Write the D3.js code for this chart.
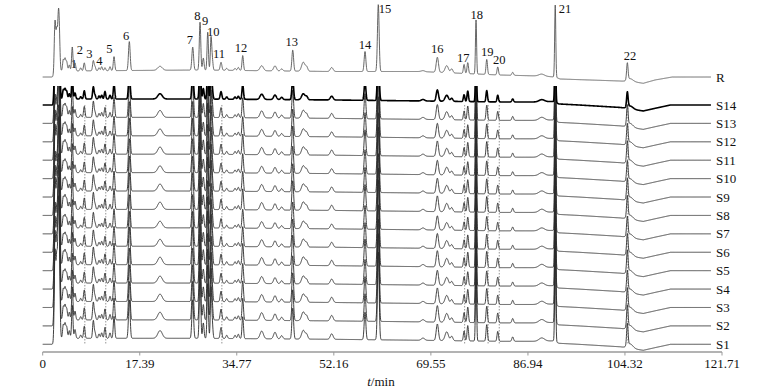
<!DOCTYPE html>
<html><head><meta charset="utf-8">
<script src="https://cdn.jsdelivr.net/npm/d3@7/dist/d3.min.js"></script>
<style>
body{margin:0;background:#fff;}
text{font-family:"Liberation Serif","Times New Roman",serif;}
</style>
</head><body>
<svg id="chart" width="765" height="392"></svg>
<script>
// ---------- DATA ----------
const tickValues = [0, 17.39, 34.77, 52.16, 69.55, 86.94, 104.32, 121.71];
const traceNames = ["R","S14","S13","S12","S11","S10","S9","S8","S7","S6","S5","S4","S3","S2","S1"];

// retention times (min) of the peaks seen in the chromatograms
const peakTimes   = [2.20,2.51,2.80,2.97,3.69,4.00,4.30,4.77,5.30,5.79,6.81,7.45,9.07,9.37,10.09,10.57,11.16,12.06,12.78,15.52,21.02,26.88,28.19,28.78,29.57,30.16,30.39,31.95,32.97,34.46,35.05,35.84,39.24,41.62,42.82,44.80,46.69,47.30,51.78,57.75,60.13,68.14,70.71,72.39,73.29,75.50,76.16,77.64,79.56,81.53,84.21,89.41,91.83,104.75,105.25];
// peak heights in the reference (R) trace
const refHeights  = [52,40,45,32,11,12,9,6,24,8,3,8,10,4,3,4,3,4,14,29,4,23,48,12,38,32,10,8,2,2,3,15,5,5,2,21,9,4,4,20,67,1,15,7,4,9,11,54,15,8,3,2,72,17,3];
// typical peak heights in the sample (S) traces
const sampleHeights=[80,70,85,75,12,13,10,7,30,8,3,11,16,5,4,5,10,5,20,35,7,35,60,14,50,45,12,10,3,3,4,20,7,6,3,28,8,4,5,25,80,2,15,8,4,9,14,70,15,9,4,3,85,20,4];
// peak widths (sigma, min)
const peakWidths  = [.13,.13,.13,.13,.13,.13,.13,.13,.12,.13,.13,.13,.13,.13,.13,.13,.13,.13,.13,.15,.4,.15,.13,.13,.12,.12,.12,.15,.15,.15,.15,.13,.3,.25,.2,.15,.3,.2,.25,.15,.15,.3,.2,.3,.2,.13,.13,.1,.13,.13,.15,.5,.1,.13,.5];
// relative response of each sample, S14 .. S1
const sampleScale = [0.75,1.0,0.98,1.03,0.97,1.0,1.05,0.95,1.0,1.08,1.0,1.05,1.1,1.1];

// baseline drift (time, signal)
const refBaseT  = [0,1.7,3.1,28.2,51.5,67.6,81.9,89.1,91.8,92.7,103.4,106.1,107.6,109.7,112.8,119.75];
const refBaseV  = [0,0,6,7,5.5,5.5,2,1,0,-2,-4,-5,-6.3,-3,0,0];
const sampBaseT = [0,1.7,3.1,28,52,68,82,89,91.5,92.5,96,103.5,107.6,110,112.5,119.75];
const sampBaseV = [0,0,6,6,5,4,3,3,3.5,1,0,-2.5,-6,-3,0,0];

// peak number labels on R (time, signal level)
const labelText   = ["1","2","3","4","5","6","7","8","9","10","11","12","13","14","15","16","17","18","19","20","21","22"];
const labelTimes  = [5.60,6.65,8.35,10.14,11.93,14.93,26.39,27.70,29.10,30.55,31.59,35.53,44.62,57.75,61.33,70.70,75.36,77.76,79.66,81.81,93.59,105.23];
const labelLevels = [13,27,23,16,28,41,37,61.5,56,45,23,29.5,35.5,32,68,28,19.5,62.5,25.5,17,68,21];

// aligned-peak marker times (dotted lines)
const markerTimes = [7.55,11.3,32.1,75.6,79.8,81.8,104.85];

// ---------- LAYOUT ----------
const svg = d3.select("#chart");
const x = d3.scaleLinear().domain([0,121.71]).range([42.7,722]);
const y = d3.scaleLinear().domain([0,344.3]).range([344.3,0]);
const spacing = 18.41;
const levelOf = name => name==="R" ? 267.3 : (parseInt(name.slice(1))-1)*spacing;

const tEnd = 119.75, step = 0.03;
const times = d3.range(0, tEnd+1e-9, step);
const refBase = d3.scaleLinear().domain(refBaseT).range(refBaseV).clamp(true);
const sampBase = d3.scaleLinear().domain(sampBaseT).range(sampBaseV).clamp(true);

function signal(t, heights, scale, base){
  let s = base(t);
  for(let i=0;i<peakTimes.length;i++){
    const d=(t-peakTimes[i])/peakWidths[i];
    if(Math.abs(d)<6) s += heights[i]*scale*Math.exp(-0.5*d*d);
  }
  return s;
}

const line = d3.line().x(d=>x(d[0])).y(d=>y(d[1]));

// clip for sample traces
svg.append("defs").append("clipPath").attr("id","sclip")
  .append("rect").attr("x",0).attr("y",86).attr("width",765).attr("height",306);

// dotted markers
svg.append("g").selectAll("line").data(markerTimes).join("line")
  .attr("x1",d=>x(d)).attr("x2",d=>x(d))
  .attr("y1",y(levelOf("S14"))).attr("y2",y(0))
  .attr("stroke","#666").attr("stroke-width",0.7).attr("stroke-dasharray","1.5,1.5");

// sample traces
const gS = svg.append("g").attr("clip-path","url(#sclip)");
const sNames = traceNames.slice(1).reverse(); // S1..S14
sNames.forEach(name=>{
  const idx = traceNames.indexOf(name)-1;
  const lvl = levelOf(name);
  const pts = times.map(t=>[t, lvl+signal(t, sampleHeights, sampleScale[idx], sampBase)]);
  gS.append("path").attr("d",line(pts)).attr("fill","none")
    .attr("stroke", name==="S14" ? "#000" : "#2a2a2a")
    .attr("stroke-width", name==="S14" ? 1.6 : 0.9)
    .attr("stroke-linejoin","round");
});

// peak labels
svg.append("g").selectAll("text").data(labelText).join("text")
  .attr("x",(d,i)=>x(labelTimes[i]))
  .attr("y",(d,i)=>y(levelOf("R")+labelLevels[i]))
  .attr("dy","0.35em").attr("text-anchor","middle")
  .attr("font-size",12.5).attr("fill","#111").text(d=>d);

// reference trace
{
  const lvl = levelOf("R");
  const pts = times.map(t=>[t, lvl+signal(t, refHeights, 1, refBase)]);
  svg.append("path").attr("d",line(pts)).attr("fill","none")
    .attr("stroke","#555").attr("stroke-width",0.9).attr("stroke-linejoin","round");
}

// trace names
svg.append("g").selectAll("text").data(traceNames).join("text")
  .attr("x",716).attr("y",d=>y(levelOf(d)))
  .attr("dy","0.35em").attr("font-size",13).attr("fill","#111").text(d=>d);

// x axis
const axisY = 352;
const gA = svg.append("g").attr("transform",`translate(0,${axisY})`);
gA.append("line").attr("x1",x(0)).attr("x2",x(121.71)).attr("stroke","#9a9a9a").attr("stroke-width",1.6);
gA.selectAll("line.tk").data(tickValues).join("line").attr("class","tk")
  .attr("x1",d=>x(d)).attr("x2",d=>x(d)).attr("y1",0).attr("y2",3.5)
  .attr("stroke","#9a9a9a").attr("stroke-width",1);
gA.selectAll("text").data(tickValues).join("text")
  .attr("x",d=>x(d)).attr("y",15.5).attr("text-anchor","middle")
  .attr("font-size",13).attr("fill","#111")
  .text(d=>d===0?"0":d.toFixed(2));

const title = svg.append("text").attr("x",x(60.6)).attr("y",386).attr("text-anchor","middle")
  .attr("font-size",13).attr("fill","#111");
title.append("tspan").attr("font-style","italic").text("t");
title.append("tspan").text("/min");
</script>
</body></html>
